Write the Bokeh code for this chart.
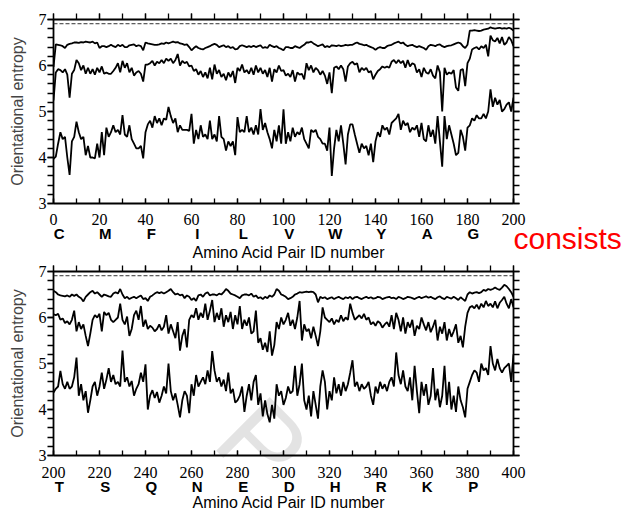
from bokeh.plotting import figure
from bokeh.models import (Range1d, LinearAxis, SingleIntervalTicker, FixedTicker,
                          Span, Label, Title, CustomJSTickFormatter)
from bokeh.layouts import column
from bokeh.embed import file_html
from bokeh.resources import INLINE

# ---------------- data ----------------
max_entropy = 6.908

pair_id_a = list(range(0, 201))
upper_a = [5.97, 6.46, 6.45, 6.44, 6.42, 6.38, 6.45, 6.47, 6.48, 6.50,
           6.50, 6.49, 6.51, 6.50, 6.52, 6.51, 6.50, 6.52, 6.48, 6.50,
           6.38, 6.42, 6.42, 6.40, 6.42, 6.45, 6.42, 6.40, 6.45, 6.42,
           6.45, 6.40, 6.40, 6.44, 6.45, 6.46, 6.42, 6.44, 6.42, 6.33,
           6.50, 6.48, 6.47, 6.46, 6.45, 6.45, 6.46, 6.48, 6.47, 6.50,
           6.48, 6.50, 6.52, 6.50, 6.51, 6.48, 6.47, 6.45, 6.46, 6.40,
           6.33, 6.38, 6.42, 6.38, 6.36, 6.35, 6.38, 6.40, 6.42, 6.45,
           6.47, 6.45, 6.40, 6.42, 6.44, 6.40, 6.42, 6.38, 6.40, 6.35,
           6.36, 6.42, 6.44, 6.42, 6.40, 6.42, 6.40, 6.43, 6.40, 6.42,
           6.44, 6.38, 6.40, 6.38, 6.45, 6.42, 6.40, 6.42, 6.38, 6.36,
           6.33, 6.40, 6.40, 6.38, 6.38, 6.42, 6.40, 6.38, 6.42, 6.45,
           6.50, 6.50, 6.52, 6.48, 6.45, 6.42, 6.44, 6.46, 6.40, 6.42,
           6.40, 6.44, 6.43, 6.42, 6.44, 6.42, 6.43, 6.45, 6.44, 6.45,
           6.45, 6.48, 6.50, 6.47, 6.46, 6.44, 6.45, 6.42, 6.40, 6.38,
           6.34, 6.38, 6.40, 6.38, 6.38, 6.42, 6.44, 6.45, 6.48, 6.50,
           6.52, 6.48, 6.50, 6.45, 6.42, 6.44, 6.45, 6.42, 6.40, 6.42,
           6.40, 6.38, 6.34, 6.42, 6.45, 6.44, 6.42, 6.45, 6.46, 6.42,
           6.40, 6.42, 6.43, 6.44, 6.46, 6.48, 6.50, 6.48, 6.42, 6.38,
           6.45, 6.76, 6.76, 6.77, 6.76, 6.75, 6.76, 6.78, 6.79, 6.80,
           6.83, 6.81, 6.80, 6.81, 6.82, 6.80, 6.81, 6.80, 6.82, 6.80,
           6.76]
middle_a = [5.24, 5.85, 5.92, 5.90, 5.85, 5.92, 5.80, 5.30, 5.82, 5.90,
            6.12, 6.05, 5.90, 6.00, 5.82, 5.95, 5.82, 5.92, 5.80, 5.95,
            5.85, 5.98, 5.82, 5.85, 5.82, 5.82, 5.88, 5.95, 6.05, 5.85,
            6.10, 5.95, 6.05, 5.85, 5.95, 5.78, 5.85, 5.88, 5.82, 5.65,
            6.02, 6.02, 6.05, 6.10, 6.00, 6.08, 6.05, 6.12, 6.05, 6.15,
            6.10, 6.15, 6.05, 6.12, 6.25, 6.00, 6.10, 6.05, 6.08, 5.98,
            6.00, 5.88, 5.92, 5.80, 5.88, 5.75, 5.85, 5.72, 5.95, 5.70,
            6.02, 5.82, 5.90, 5.75, 5.82, 5.68, 5.85, 5.75, 5.88, 5.62,
            5.95, 5.88, 6.02, 5.85, 5.90, 5.82, 5.95, 5.80, 6.00, 5.85,
            5.95, 5.82, 5.90, 5.75, 5.95, 5.65, 5.92, 5.85, 6.00, 5.88,
            5.90, 5.78, 5.82, 5.75, 5.90, 5.65, 5.85, 5.80, 5.82, 5.70,
            6.05, 5.90, 6.00, 5.85, 5.95, 5.90, 5.80, 5.88, 5.78, 5.60,
            5.85, 5.40, 5.95, 5.98, 5.92, 6.00, 5.92, 5.65, 5.98, 6.05,
            6.08, 6.02, 6.05, 5.85, 5.95, 5.90, 5.95, 5.85, 5.88, 5.70,
            5.80, 5.88, 5.92, 5.98, 5.95, 5.98, 5.95, 6.08, 6.12, 6.05,
            6.12, 6.05, 6.10, 5.95, 6.12, 5.98, 6.05, 6.02, 5.85, 5.92,
            5.75, 5.95, 5.85, 5.82, 5.92, 5.78, 5.72, 6.00, 5.85, 5.00,
            5.95, 5.80, 5.85, 5.82, 5.90, 5.52, 5.45, 5.90, 5.92, 5.55,
            6.05, 6.15, 6.35, 6.38, 6.40, 6.35, 6.42, 6.38, 6.45, 6.20,
            6.65, 6.55, 6.52, 6.60, 6.48, 6.62, 6.45, 6.50, 6.62, 6.55,
            6.42]
lower_a = [3.97, 4.02, 4.30, 4.55, 4.40, 4.45, 4.00, 3.62, 4.35, 4.45,
           4.78, 4.55, 4.40, 4.45, 4.05, 4.25, 4.00, 4.00, 3.98, 4.30,
           4.00, 4.55, 4.05, 4.65, 4.45, 4.55, 4.70, 4.55, 4.60, 4.50,
           4.92, 4.50, 4.45, 4.70, 4.40, 4.30, 4.20, 4.20, 4.25, 3.98,
           4.55, 4.72, 4.80, 4.65, 4.90, 4.75, 4.85, 4.70, 4.85, 4.82,
           5.10, 4.90, 4.75, 4.85, 4.55, 4.70, 4.60, 4.60, 4.60, 4.58,
           4.95, 4.30, 4.60, 4.40, 4.70, 4.45, 4.50, 4.40, 4.80, 4.40,
           4.50, 4.35, 4.90, 4.45, 4.40, 4.15, 4.35, 4.25, 4.35, 4.05,
           4.88, 4.55, 4.60, 4.55, 4.90, 4.55, 4.65, 4.50, 4.70, 4.50,
           5.05, 4.60, 4.75, 4.55, 4.40, 4.20, 4.60, 4.35, 4.70, 4.30,
           5.05, 4.30, 4.55, 4.35, 4.65, 4.45, 4.55, 4.50, 4.65, 4.40,
           4.30, 4.20, 4.60, 4.55, 4.60, 4.45, 4.40, 4.30, 4.30, 4.15,
           4.65, 3.60, 4.20, 4.60, 4.35, 4.70, 4.30, 3.85, 4.50, 4.72,
           4.72, 4.50, 4.30, 4.10, 4.30, 4.20, 4.25, 4.05, 4.30, 3.90,
           4.35, 4.55, 4.45, 4.70, 4.60, 4.65, 4.50, 4.75, 4.80, 4.85,
           4.95, 4.60, 4.80, 4.70, 4.75, 4.55, 4.65, 4.60, 4.70, 4.45,
           4.75, 4.40, 4.35, 4.70, 4.45, 4.60, 4.30, 4.90, 4.35, 3.80,
           4.90, 4.40, 4.70, 4.50, 4.30, 4.05, 4.10, 4.60, 4.45, 4.15,
           4.65, 4.70, 4.85, 4.80, 4.92, 4.85, 4.85, 4.95, 4.85, 5.00,
           5.48, 5.10, 5.30, 5.15, 5.25, 5.00, 5.05, 5.15, 5.20, 5.00,
           5.30]

pair_id_b = list(range(200, 401))
upper_b = [6.58, 6.55, 6.50, 6.48, 6.47, 6.46, 6.48, 6.45, 6.50, 6.47,
           6.50, 6.45, 6.42, 6.35, 6.45, 6.50, 6.55, 6.58, 6.52, 6.55,
           6.50, 6.45, 6.50, 6.48, 6.46, 6.45, 6.52, 6.55, 6.52, 6.62,
           6.50, 6.42, 6.45, 6.40, 6.43, 6.45, 6.42, 6.45, 6.48, 6.40,
           6.42, 6.36, 6.45, 6.48, 6.52, 6.55, 6.53, 6.55, 6.52, 6.55,
           6.58, 6.62, 6.55, 6.50, 6.52, 6.48, 6.50, 6.42, 6.48, 6.45,
           6.38, 6.42, 6.36, 6.48, 6.50, 6.45, 6.52, 6.55, 6.48, 6.50,
           6.50, 6.48, 6.52, 6.50, 6.55, 6.62, 6.58, 6.52, 6.50, 6.48,
           6.45, 6.42, 6.48, 6.50, 6.50, 6.48, 6.52, 6.45, 6.48, 6.42,
           6.44, 6.40, 6.45, 6.42, 6.48, 6.45, 6.50, 6.62, 6.58, 6.50,
           6.48, 6.45, 6.40, 6.42, 6.45, 6.50, 6.52, 6.55, 6.54, 6.55,
           6.56, 6.55, 6.56, 6.55, 6.50, 6.33, 6.45, 6.42, 6.44, 6.40,
           6.42, 6.44, 6.40, 6.43, 6.45, 6.42, 6.40, 6.44, 6.42, 6.45,
           6.40, 6.44, 6.45, 6.42, 6.40, 6.43, 6.45, 6.42, 6.44, 6.41,
           6.42, 6.45, 6.44, 6.40, 6.42, 6.44, 6.45, 6.42, 6.43, 6.40,
           6.45, 6.43, 6.40, 6.42, 6.45, 6.44, 6.42, 6.40, 6.43, 6.45,
           6.42, 6.44, 6.46, 6.43, 6.45, 6.42, 6.40, 6.44, 6.46, 6.42,
           6.40, 6.45, 6.43, 6.41, 6.45, 6.42, 6.38, 6.44, 6.40, 6.36,
           6.50, 6.55, 6.52, 6.54, 6.55, 6.53, 6.55, 6.60, 6.58, 6.62,
           6.60, 6.62, 6.65, 6.62, 6.60, 6.65, 6.71, 6.68, 6.62, 6.55,
           6.45]
middle_b = [6.07, 6.05, 6.08, 5.95, 5.98, 5.88, 5.92, 5.85, 5.95, 6.15,
            5.70, 5.90, 5.75, 5.85, 5.60, 5.38, 5.65, 5.95, 6.05, 6.00,
            6.08, 5.70, 6.12, 6.05, 6.10, 5.95, 5.90, 5.95, 6.00, 6.30,
            5.95, 5.85, 6.02, 5.60, 5.75, 6.05, 6.15, 5.95, 6.25, 5.80,
            5.95, 5.75, 5.82, 5.78, 5.70, 5.75, 5.85, 5.72, 5.80, 6.05,
            5.65, 5.85, 5.70, 5.55, 5.90, 5.28, 5.60, 5.75, 5.35, 5.95,
            6.05, 6.00, 6.20, 5.95, 6.10, 6.00, 6.30, 5.95, 6.15, 6.38,
            5.90, 6.10, 5.95, 6.20, 5.80, 6.05, 5.90, 6.12, 5.75, 6.05,
            5.85, 6.25, 5.75, 5.95, 5.82, 6.00, 5.65, 5.70, 6.15, 5.45,
            5.55, 5.30, 5.45, 5.25, 5.70, 5.17, 5.40, 5.90, 5.75, 6.00,
            5.85, 5.95, 6.10, 5.82, 5.95, 5.75, 6.00, 6.36, 5.50, 5.85,
            5.70, 5.75, 5.55, 5.80, 5.60, 5.38, 5.70, 6.22, 6.00, 5.95,
            5.90, 5.98, 5.85, 5.95, 5.90, 6.05, 5.92, 6.00, 5.95, 6.30,
            6.10, 5.95, 6.00, 6.05, 5.98, 6.08, 5.95, 6.00, 5.85, 5.90,
            5.82, 5.92, 5.88, 5.78, 5.85, 5.90, 5.80, 6.05, 5.75, 6.10,
            5.95, 5.70, 6.00, 5.65, 5.90, 5.78, 5.95, 5.60, 5.82, 5.75,
            6.00, 5.85, 5.72, 5.90, 5.68, 5.80, 5.95, 5.50, 5.80, 5.65,
            5.90, 5.50, 5.75, 5.58, 5.70, 5.85, 5.45, 5.60, 5.35, 5.80,
            6.10, 6.22, 6.25, 6.20, 6.28, 6.18, 6.30, 6.22, 6.36, 6.25,
            6.30, 6.22, 6.35, 6.20, 6.32, 6.38, 6.45, 6.30, 6.20, 6.40,
            6.22]
lower_b = [4.37, 4.45, 4.50, 4.84, 4.55, 4.45, 4.60, 4.45, 4.50, 4.70,
           5.13, 4.30, 4.55, 4.20, 4.40, 3.93, 4.20, 4.50, 4.60, 4.30,
           4.50, 4.80, 4.45, 4.65, 4.90, 4.60, 4.75, 4.55, 4.60, 4.50,
           5.28, 4.60, 4.70, 4.50, 4.62, 4.30, 4.45, 4.55, 4.80, 4.60,
           4.98, 4.00, 4.30, 4.42, 4.25, 4.38, 4.15, 4.30, 4.50, 4.35,
           5.00, 4.40, 4.20, 4.35, 4.10, 3.83, 4.20, 4.40, 4.30, 3.92,
           4.55, 4.30, 4.75, 4.50, 4.60, 4.70, 4.55, 4.85, 4.60, 5.27,
           4.85, 4.60, 4.70, 4.50, 4.65, 4.40, 4.80, 4.35, 4.45, 4.15,
           4.20, 4.30, 4.50, 3.95, 4.30, 4.55, 4.20, 4.60, 4.75, 4.10,
           4.35, 3.85, 4.20, 3.90, 3.72, 4.10, 3.80, 4.55, 4.30, 4.40,
           4.10, 4.25, 4.50, 4.35, 4.40, 4.95, 4.30, 4.55, 5.00, 4.20,
           4.00, 4.30, 3.85, 4.40, 4.10, 3.80, 4.50, 4.85, 4.60, 4.00,
           4.40, 4.20, 4.70, 4.35, 4.55, 4.30, 4.60, 4.40, 4.55, 4.80,
           5.07, 4.50, 4.60, 4.40, 4.55, 4.45, 4.50, 4.60, 4.30, 4.10,
           4.50, 4.35, 4.60, 4.45, 4.55, 4.40, 4.60, 4.70, 4.50, 5.24,
           4.75, 4.55, 4.85, 4.50, 4.40, 4.70, 4.20, 4.95, 4.40, 3.92,
           4.60, 4.30, 4.55, 4.10, 4.30, 4.90, 4.20, 4.45, 4.05, 4.30,
           4.95, 4.10, 4.60, 4.00, 4.30, 3.95, 4.50, 4.20, 4.05, 3.83,
           4.45, 4.60, 4.75, 4.85, 4.80, 4.60, 5.00, 4.85, 4.90, 4.75,
           5.38, 5.00, 4.85, 5.10, 4.90, 4.80, 4.90, 4.95, 5.00, 4.60,
           5.20]

group_starts_a = list(range(0, 200, 20))
letters_a = ["C", "M", "F", "I", "L", "V", "W", "Y", "A", "G"]
group_starts_b = list(range(200, 400, 20))
letters_b = ["T", "S", "Q", "N", "E", "D", "H", "R", "K", "P"]

x_title = "Amino Acid Pair ID number"
y_title = "Orientational entropy"
note_text = "consists"
watermark_text = "P"

NUM_FONT = "Liberation Serif"
SANS = "Liberation Sans"


def blank_axis(axis):
    axis.formatter = CustomJSTickFormatter(code="return ''")
    axis.major_label_text_font_size = "0px"
    axis.major_label_standoff = 0


def make_panel(xs, up, mid, low, starts, letters, x0, border_top,
               num_standoff, let_standoff, title_standoff, note=None):
    p = figure(frame_width=460, frame_height=184,
               x_range=Range1d(x0, x0 + 200), y_range=Range1d(3, 7),
               output_backend="svg", toolbar_location=None,
               min_border_left=53, min_border_right=115,
               min_border_top=border_top, min_border_bottom=57,
               background_fill_color="white", border_fill_color="white")
    p.outline_line_color = None
    p.grid.visible = False

    p.add_layout(Span(location=max_entropy, dimension="width", line_color="#333333",
                      line_width=1, line_dash="4 2"))
    for ys in (up, mid, low):
        p.line(xs, ys, line_color="black", line_width=1.8)

    # left axis
    ya = p.yaxis[0]
    ya.ticker = SingleIntervalTicker(interval=1, num_minor_ticks=5)
    ya.major_tick_out = 6
    ya.major_tick_in = 0
    ya.minor_tick_out = 6
    ya.minor_tick_in = 0
    ya.axis_line_width = 1.8
    ya.major_tick_line_width = 1.3
    ya.minor_tick_line_width = 1.3
    ya.major_label_text_font = NUM_FONT
    ya.major_label_text_font_size = "16px"
    ya.major_label_text_color = "black"
    ya.major_label_standoff = 1
    ya.axis_label = y_title
    ya.axis_label_text_font = SANS
    ya.axis_label_text_font_style = "normal"
    ya.axis_label_text_font_size = "16px"
    ya.axis_label_standoff = 10

    # bottom numeric axis
    xa = p.xaxis[0]
    xa.ticker = SingleIntervalTicker(interval=20, num_minor_ticks=2)
    xa.major_tick_out = 0
    xa.major_tick_in = 5
    xa.minor_tick_out = 0
    xa.minor_tick_in = 5
    xa.axis_line_width = 1.8
    xa.major_tick_line_width = 1.3
    xa.minor_tick_line_width = 1.3
    xa.major_label_text_font = NUM_FONT
    xa.major_label_text_font_size = "16px"
    xa.major_label_text_color = "black"
    xa.major_label_standoff = num_standoff

    # letter axis
    pos = [s + 2.5 for s in starts]
    la = LinearAxis(ticker=FixedTicker(ticks=pos),
                    major_label_overrides={float(v): t for v, t in zip(pos, letters)},
                    major_tick_out=0, major_tick_in=0, minor_tick_out=0, minor_tick_in=0,
                    axis_line_color=None,
                    major_label_standoff=let_standoff,
                    major_label_text_font=SANS, major_label_text_font_style="bold",
                    major_label_text_font_size="15px", major_label_text_color="black")

    # x title (side-panel title, shifted slightly right of the frame centre)
    xt = Title(text=x_title, align="left", offset=139, standoff=title_standoff,
               vertical_align="bottom", text_color="black", text_font=SANS,
               text_font_size="16px", text_font_style="normal")

    below = [xa]
    if note is not None:
        below.append(note)
    below += [la, xt]
    p.below = below

    # top and right frame axes (ticks only)
    ta = LinearAxis(ticker=SingleIntervalTicker(interval=20, num_minor_ticks=2),
                    major_tick_out=6, major_tick_in=0, minor_tick_out=6, minor_tick_in=0,
                    axis_line_width=1.8, major_tick_line_width=1.3, minor_tick_line_width=1.3)
    blank_axis(ta)
    p.add_layout(ta, "above")
    ra = LinearAxis(ticker=SingleIntervalTicker(interval=1, num_minor_ticks=5),
                    major_tick_out=6, major_tick_in=0, minor_tick_out=6, minor_tick_in=0,
                    axis_line_width=1.8, major_tick_line_width=1.3, minor_tick_line_width=1.3)
    blank_axis(ra)
    p.add_layout(ra, "right")
    return p


# red note right of the lower-right corner (zero-height side-panel title)
note = Title(text=note_text, align="left", offset=460, standoff=-55,
             vertical_align="bottom", text_color="red", text_font=SANS,
             text_font_size="30px", text_font_style="normal")

p1 = make_panel(pair_id_a, upper_a, middle_a, lower_a, group_starts_a, letters_a, 0,
                19, 10, -3, -5, note=note)

p2 = make_panel(pair_id_b, upper_b, middle_b, lower_b, group_starts_b, letters_b, 200,
                11, 11, -3, -11)
p2.add_layout(Label(x=280, y=113, x_units="canvas", y_units="canvas",
                    text=watermark_text, text_color="black", text_alpha=0.11,
                    text_font=SANS, text_font_size="110px", angle=-45, angle_units="deg",
                    text_align="left", text_baseline="top"), "right")

layout = column(p1, p2, spacing=0)

open("out.html", "w").write(file_html(layout, INLINE))
